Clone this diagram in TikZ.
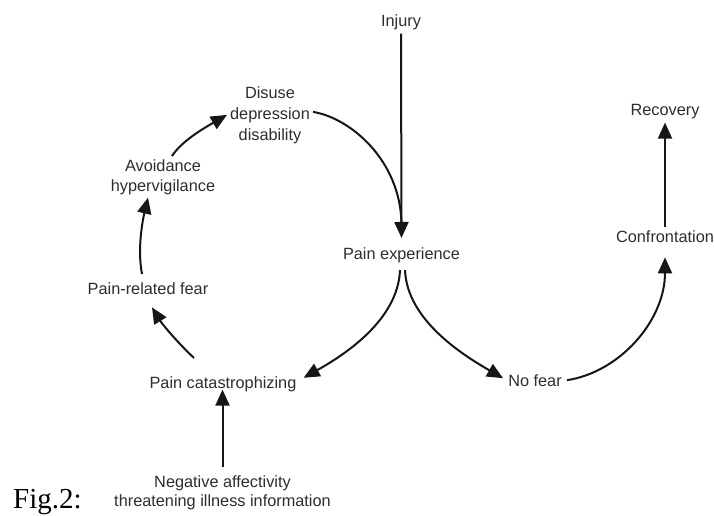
\documentclass[tikz,border=0pt]{standalone}
\usepackage{fontspec}
\setmainfont{Liberation Sans}
\newfontfamily\figfont{Liberation Serif}
\usetikzlibrary{arrows.meta}
\definecolor{textc}{HTML}{2E2E2E}
\definecolor{linec}{HTML}{161616}
\tikzset{
  lbl/.style={font=\fontsize{16.3}{21}\selectfont, text=textc, inner sep=3pt, align=center},
  arr/.style={-{Triangle[length=16pt,width=14pt]}, line width=2pt, draw=linec},
  plain/.style={line width=2pt, draw=linec},
}
\begin{document}
\begin{tikzpicture}[x=1pt,y=-1pt]
\useasboundingbox[fill=white] (0,0) rectangle (714,516);
% nodes
\node[lbl, anchor=base] (inj) at (401,27) {Injury};
\node[lbl, anchor=center] (dis) at (270,114.9) {Disuse\\depression\\disability};
\node[lbl, anchor=center, font=\fontsize{16.3}{20}\selectfont] (av) at (163,176.9) {Avoidance\\hypervigilance};
\node[lbl, anchor=base] (pe) at (401.5,259) {Pain experience};
\node[lbl, anchor=base] (fear) at (148,294) {Pain-related fear};
\node[lbl, anchor=base] (cat) at (223,388) {Pain catastrophizing};
\node[lbl, anchor=center, font=\fontsize{16.3}{19}\selectfont] (neg) at (222.5,492.4) {Negative affectivity\\threatening illness information};
\node[lbl, anchor=base] (nf) at (535,386) {No fear};
\node[lbl, anchor=base] (conf) at (665,242) {Confrontation};
\node[lbl, anchor=base] (rec) at (665,116) {Recovery};
\node[anchor=base west, inner sep=0pt, font=\figfont\fontsize{29}{30}\selectfont] (fig) at (13,508) {Fig.2:};
% connectors
\draw[arr] (inj.south) -- ([yshift=6pt]pe.north);
\draw[plain] ([yshift=3pt]dis.east) .. controls +(37,6) and +(-1,-64) .. ([yshift=20pt]pe.north);
\draw[arr] ([xshift=9pt]av.north) .. controls +(10,-16) and +(-19,11) .. (dis.west);
\draw[arr] ([xshift=-6pt,yshift=5pt]fear.north) .. controls +(-5,-26) and +(-5,21) .. ([xshift=-15pt]av.south);
\draw[arr] ([xshift=-29pt,yshift=15pt]cat.north) .. controls +(-14,-13) and +(11,18) .. ([xshift=4pt,yshift=-10pt]fear.south);
\draw[arr] ([xshift=-1.5pt,yshift=-4.5pt]pe.south) .. controls +(-2,50) and +(41,-23) .. ([xshift=4pt,yshift=6pt]cat.east);
\draw[arr] ([xshift=3.5pt,yshift=-4.5pt]pe.south) .. controls +(2,50) and +(-40,-23) .. ([xshift=-2pt,yshift=2pt]nf.west);
\draw[arr] ([xshift=2pt]nf.east) .. controls +(53,-8) and +(0,63) .. ([yshift=-12pt]conf.south);
\draw[arr] (conf.north) -- (rec.south);
\draw[arr] ([yshift=5pt]neg.north) -- ([yshift=5pt]neg.north |- cat.south);
\end{tikzpicture}
\end{document}
